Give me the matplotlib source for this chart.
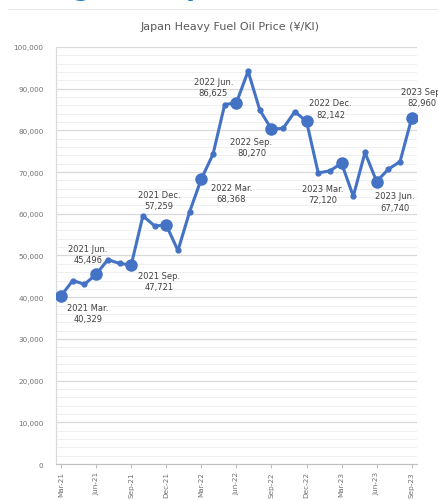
# Japan heavy fuel oil price, monthly line chart with quarterly labels

import numpy as np
from matplotlib import pyplot as plt
from matplotlib.ticker import MultipleLocator, FuncFormatter

# --- DATA ---
months = ['Mar-21', 'Apr-21', 'May-21', 'Jun-21', 'Jul-21', 'Aug-21', 'Sep-21',
          'Oct-21', 'Nov-21', 'Dec-21', 'Jan-22', 'Feb-22', 'Mar-22', 'Apr-22',
          'May-22', 'Jun-22', 'Jul-22', 'Aug-22', 'Sep-22', 'Oct-22', 'Nov-22',
          'Dec-22', 'Jan-23', 'Feb-23', 'Mar-23', 'Apr-23', 'May-23', 'Jun-23',
          'Jul-23', 'Aug-23', 'Sep-23']
prices = [40329, 44000, 43100, 45496, 49000, 48100, 47721,
          59500, 57100, 57259, 51200, 60500, 68368, 74300,
          86200, 86625, 94200, 84900, 80270, 80500, 84500,
          82142, 69800, 70300, 72120, 64200, 74700, 67740,
          70700, 72500, 82960]

# quarterly points that get a big marker and a label
label_idx = [0, 3, 6, 9, 12, 15, 18, 21, 24, 27, 30]
label_names = ['2021 Mar.', '2021 Jun.', '2021 Sep.', '2021 Dec.', '2022 Mar.',
               '2022 Jun.', '2022 Sep.', '2022 Dec.', '2023 Mar.', '2023 Jun.',
               '2023 Sep.']
# label offsets from the point, in pixels
label_off = [(27, -17), (-8, 20), (28, -16), (-7, 25), (30, -14),
             (-23, 16), (-20, -18), (24, 13), (-19, -31), (18, -20), (10, 21)]

line_col = '#4472C4'
text_col = '#404040'

# --- FIGURE ---
fig = plt.figure(figsize=(4.38, 5.02), dpi=100)
fig.patch.set_facecolor('w')
ax = fig.add_axes([0.128, 0.0737, 0.824, 0.8307])

x = np.arange(len(prices))
ax.plot(x, prices, color=line_col, lw=2.2, marker='o', ms=3.5, zorder=3)
ax.plot(x[label_idx], np.array(prices)[label_idx], 'o', color=line_col, ms=8, zorder=4)

for k in range(len(label_idx)):
	i = label_idx[k]
	txt = label_names[k] + '\n' + format(prices[i], ',')
	ax.annotate(txt, (i, prices[i]), xytext=label_off[k], textcoords='offset pixels',
	            ha='center', va='center', fontsize=6, color=text_col,
	            linespacing=1.3, annotation_clip=False)

ax.set_xlim(-0.43, 30.45)
ax.set_ylim(0, 100000)
ax.set_xticks(x[::3])
ax.set_xticklabels(months[::3], rotation=90)
ax.yaxis.set_major_locator(MultipleLocator(10000))
ax.yaxis.set_minor_locator(MultipleLocator(2000))
ax.yaxis.set_major_formatter(FuncFormatter(lambda v, p: format(int(v), ',')))

ax.grid(axis='y', which='major', color='#d9d9d9', lw=0.9)
ax.grid(axis='y', which='minor', color='#efefef', lw=0.7)
ax.set_axisbelow(True)

for s in ['top', 'right']:
	ax.spines[s].set_visible(False)
ax.spines['left'].set_color('#d9d9d9')
ax.spines['bottom'].set_color('#bfbfbf')

ax.tick_params(axis='y', which='both', length=0, labelsize=5.2, labelcolor='#707070', pad=9)
ax.tick_params(axis='x', length=3, color='#bfbfbf', labelsize=5.2, labelcolor='#707070', pad=2)

fig.text(0.525, 0.946, 'Japan Heavy Fuel Oil Price (\u00a5/Kl)', ha='center', va='center',
         fontsize=8, color='#595959')

# page bits above the chart (bottom of a cut-off heading)
fig.add_artist(plt.Line2D([8/438, 1], [1 - 10/502, 1 - 10/502], color='#e8e8e8', lw=0.8))
fig.text(82/438, 1 + 4/502, 'g', ha='center', va='baseline', fontsize=18,
         fontweight='bold', color='#1a7fc1')
fig.text(186/438, 1 + 4/502, 'q', ha='center', va='baseline', fontsize=18,
         fontweight='bold', color='#1a7fc1')

plt.savefig('out.png', dpi=100)
